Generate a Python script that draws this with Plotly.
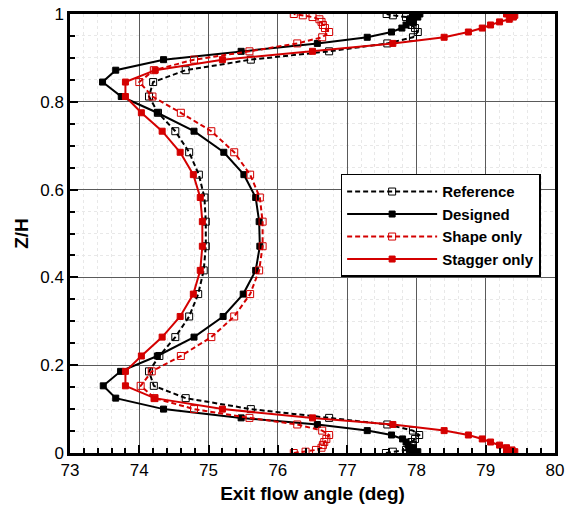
import plotly.graph_objects as go

# Spanwise positions (Z/H)
z = [0.000, 0.003, 0.007, 0.012, 0.018, 0.025, 0.032, 0.041, 0.051, 0.065,
     0.080, 0.100, 0.125, 0.153, 0.186, 0.221, 0.264, 0.311, 0.362, 0.416,
     0.471, 0.527, 0.582, 0.634, 0.685, 0.733, 0.775, 0.812, 0.845, 0.872,
     0.896, 0.915, 0.933, 0.947, 0.959, 0.968, 0.975, 0.982, 0.988, 0.993,
     0.997, 1.000]

reference = [77.56, 77.66, 77.85, 77.90, 77.95, 77.93, 77.98, 78.04, 77.95, 77.58,
             76.74, 75.61, 74.67, 74.21, 74.14, 74.29, 74.52, 74.72, 74.85, 74.93,
             74.96, 74.96, 74.94, 74.86, 74.72, 74.52, 74.27, 74.14, 74.20, 74.67,
             75.61, 76.74, 77.58, 77.95, 78.02, 77.98, 77.93, 77.95, 77.92, 77.85,
             77.66, 77.57]

designed = [77.95, 78.02, 77.90, 77.95, 77.88, 77.85, 77.80, 77.64, 77.29, 76.57,
            75.47, 74.35, 73.66, 73.48, 73.73, 74.26, 74.79, 75.21, 75.50, 75.68,
            75.74, 75.73, 75.68, 75.51, 75.22, 74.79, 74.26, 73.74, 73.47, 73.66,
            74.35, 75.47, 76.57, 77.29, 77.64, 77.79, 77.85, 77.95, 77.90, 78.02,
            77.95, 78.05]

shape_only = [76.23, 76.40, 76.55, 76.63, 76.65, 76.67, 76.70, 76.74, 76.64, 76.28,
              75.59, 74.79, 74.22, 74.02, 74.18, 74.60, 75.04, 75.37, 75.60, 75.73,
              75.78, 75.78, 75.74, 75.60, 75.37, 75.04, 74.60, 74.19, 74.00, 74.21,
              74.79, 75.59, 76.28, 76.64, 76.74, 76.68, 76.65, 76.63, 76.60, 76.50,
              76.36, 76.23]

stagger_only = [79.30, 79.42, 79.38, 79.30, 79.20, 79.07, 78.95, 78.75, 78.40, 77.66,
                76.50, 75.20, 74.22, 73.80, 73.80, 74.03, 74.33, 74.59, 74.78, 74.88,
                74.91, 74.91, 74.88, 74.78, 74.59, 74.33, 74.03, 73.80, 73.80, 74.23,
                75.20, 76.50, 77.66, 78.40, 78.75, 78.95, 79.07, 79.20, 79.34, 79.40,
                79.42, 79.30]

x_ticks = [73, 74, 75, 76, 77, 78, 79, 80]
y_ticks = [0, 0.2, 0.4, 0.6, 0.8, 1]
y_tick_text = ["0", "0.2", "0.4", "0.6", "0.8", "1"]

RED = "#d40000"
BLACK = "#000000"
FONT = "Liberation Sans, Arial"

fig = go.Figure()
series = [
    ("Reference", reference, BLACK, "5px,3px", "square-open", 7),
    ("Designed", designed, BLACK, "solid", "square", 6),
    ("Shape only", shape_only, RED, "5px,3px", "square-open", 7),
    ("Stagger only", stagger_only, RED, "solid", "square", 6),
]
for name, vals, col, dash, sym, ms in series:
    fig.add_trace(go.Scatter(
        x=vals, y=z, name=name, mode="lines+markers",
        line=dict(color=col, width=2, dash=dash),
        marker=dict(symbol=sym, size=ms, color=col, line=dict(color=col, width=1)),
    ))

axis_common = dict(
    showline=True, linecolor="black", linewidth=2.5, mirror=True,
    ticks="inside", ticklen=8, tickwidth=1.5, tickcolor="black",
    showgrid=True, gridcolor="#5a5a5a", gridwidth=1,
    zeroline=False, automargin=False,
    tickfont=dict(family=FONT, size=17, color="black"),
)

fig.update_xaxes(
    range=[73, 80], tickvals=x_ticks, ticktext=[str(v) for v in x_ticks],
    minor=dict(dtick=0.2, ticks="inside", ticklen=5, tickcolor="black",
               showgrid=True, gridcolor="#e8e8e8", griddash="dot", gridwidth=1),
    title=dict(text="<b>Exit flow angle (deg)</b>", standoff=8,
               font=dict(family=FONT, size=19, color="black")),
    **axis_common,
)
fig.update_yaxes(
    range=[0, 1], tickvals=y_ticks, ticktext=y_tick_text,
    minor=dict(dtick=0.05, ticks="inside", ticklen=5, tickcolor="black",
               showgrid=True, gridcolor="#e8e8e8", griddash="dot", gridwidth=1),
    title=dict(text="<b>Z/H</b>", standoff=7,
               font=dict(family=FONT, size=19, color="black")),
    **axis_common,
)

fig.update_layout(
    width=565, height=505,
    margin=dict(l=70, r=10, t=14, b=52),
    paper_bgcolor="white", plot_bgcolor="white",
    showlegend=True,
    legend=dict(
        x=0.558, y=0.636, xanchor="left", yanchor="top",
        bgcolor="white", bordercolor="black", borderwidth=1.5,
        font=dict(family=FONT, size=15, color="black", weight="bold"),
        itemwidth=90, tracegroupgap=0,
    ),
)

fig.write_html("out.html")
